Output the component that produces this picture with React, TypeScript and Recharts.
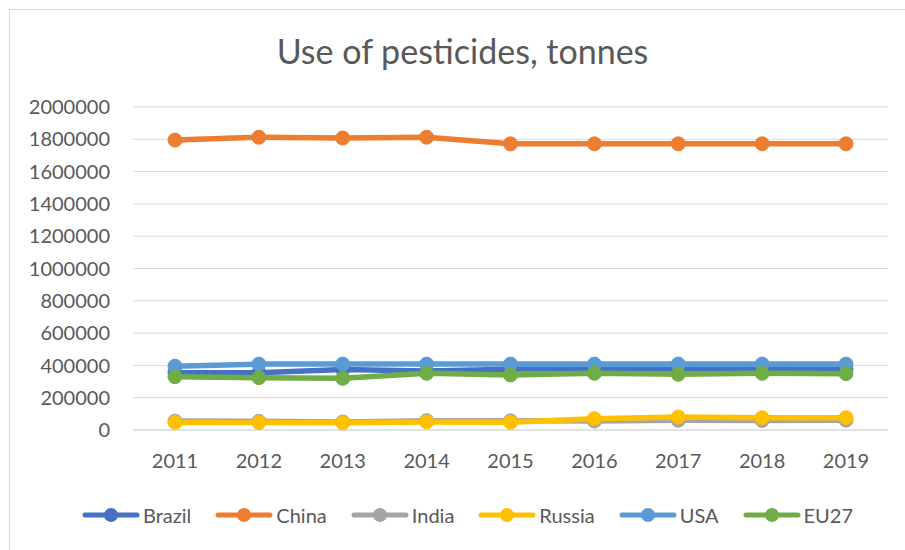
import { CartesianGrid, Line, LineChart, XAxis, YAxis } from "recharts";

const years = ["2011", "2012", "2013", "2014", "2015", "2016", "2017", "2018", "2019"];

const brazil = [355000, 355000, 375000, 365000, 377000, 377000, 377000, 377000, 377000];
const china = [1795000, 1813000, 1808000, 1813000, 1772000, 1772000, 1772000, 1772000, 1772000];
const india = [55000, 54000, 50000, 58000, 57000, 55000, 60000, 59000, 61000];
const russia = [47000, 46000, 45000, 50000, 48000, 70000, 80000, 76000, 76000];
const usa = [395000, 408000, 408000, 408000, 408000, 408000, 408000, 408000, 408000];
const eu27 = [330000, 324000, 320000, 351000, 341000, 351000, 345000, 351000, 349000];

const yTicks = [0, 200000, 400000, 600000, 800000, 1000000, 1200000, 1400000, 1600000, 1800000, 2000000];

const series = [
  { key: "Brazil", values: brazil, color: "#4472C4" },
  { key: "China", values: china, color: "#ED7D31" },
  { key: "India", values: india, color: "#A5A5A5" },
  { key: "Russia", values: russia, color: "#FFC000" },
  { key: "USA", values: usa, color: "#5B9BD5" },
  { key: "EU27", values: eu27, color: "#70AD47" },
];

const data = years.map((year, i) => {
  const row: Record<string, string | number> = { year };
  series.forEach((s) => {
    row[s.key] = s.values[i];
  });
  return row;
});

const FONT = "Lato, 'Open Sans', sans-serif";
const TEXT = "#595959";

export default function App() {
  return (
    <div
      style={{
        position: "absolute",
        left: 0,
        top: 0,
        width: 905,
        height: 550,
        overflow: "hidden",
        background: "#fff",
        fontFamily: FONT,
      }}
    >
      <div
        style={{
          position: "absolute",
          left: 9,
          top: 9,
          width: 920,
          height: 570,
          border: "1px solid #D9D9D9",
        }}
      />
      <div
        style={{
          position: "absolute",
          left: 0,
          top: 30,
          width: 925,
          textAlign: "center",
          fontSize: 34,
          lineHeight: "41px",
          color: TEXT,
        }}
      >
        Use of pesticides, tonnes
      </div>
      <div style={{ position: "absolute", left: 0, top: 0 }}>
        <LineChart
          width={905}
          height={550}
          data={data}
          margin={{ top: 107, right: 17, bottom: 90, left: 0 }}
        >
          <CartesianGrid vertical={false} stroke="#D9D9D9" strokeWidth={1} />
          <XAxis
            dataKey="year"
            padding={{ left: 42, right: 42 }}
            axisLine={{ stroke: "#D9D9D9" }}
            tickLine={false}
            tickMargin={18}
            tick={{ fontSize: 20, fill: TEXT, fontFamily: FONT }}
          />
          <YAxis
            width={133}
            domain={[0, 2000000]}
            ticks={yTicks}
            interval={0}
            axisLine={false}
            tickLine={false}
            tickMargin={17}
            tick={{ fontSize: 20, fill: TEXT, fontFamily: FONT }}
          />
          {series.map((s) => (
            <Line
              key={s.key}
              dataKey={s.key}
              stroke={s.color}
              strokeWidth={5.5}
              dot={{ r: 7, fill: s.color, stroke: s.color, strokeWidth: 1 }}
              activeDot={false}
              isAnimationActive={false}
            />
          ))}
        </LineChart>
      </div>
      <div
        style={{
          position: "absolute",
          left: 0,
          top: 501,
          width: 935,
          display: "flex",
          justifyContent: "center",
          gap: 24,
          fontSize: 20,
          color: TEXT,
          lineHeight: "28px",
        }}
      >
        {series.map((s) => (
          <div key={s.key} style={{ display: "flex", alignItems: "center" }}>
            <svg width={58} height={20} style={{ marginRight: 3 }}>
              <line x1={3} y1={10} x2={55} y2={10} stroke={s.color} strokeWidth={5} strokeLinecap="round" />
              <circle cx={29} cy={10} r={7} fill={s.color} />
            </svg>
            <span>{s.key}</span>
          </div>
        ))}
      </div>
    </div>
  );
}
